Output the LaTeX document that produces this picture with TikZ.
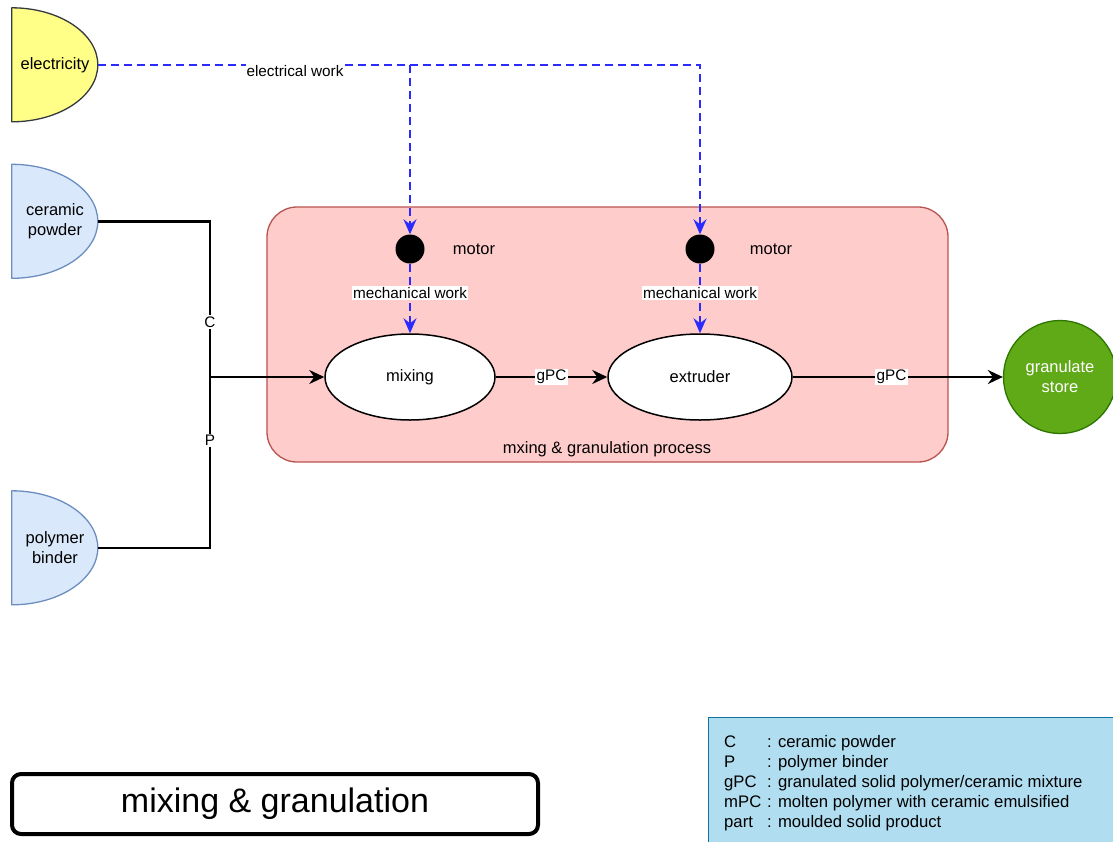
\documentclass[tikz,border=0pt]{standalone}
\usepackage{fontspec}
\setmainfont{Liberation Sans}
\usetikzlibrary{arrows.meta,shapes.geometric}
\definecolor{elecfill}{HTML}{FFFF88}
\definecolor{elecline}{HTML}{36393D}
\definecolor{feedfill}{HTML}{DAE8FC}
\definecolor{feedline}{HTML}{6C8EBF}
\definecolor{procfill}{HTML}{FFCCCC}
\definecolor{procline}{HTML}{B85450}
\definecolor{storefill}{HTML}{60A917}
\definecolor{storeline}{HTML}{2D7600}
\definecolor{legfill}{HTML}{B1DDF0}
\definecolor{legline}{HTML}{10739E}
\definecolor{workblue}{HTML}{2B2BFF}

\tikzset{
  txt/.style={font=\fontsize{16.5}{20}\selectfont, align=center, inner sep=0pt},
  elabel/.style={font=\fontsize{15.3}{18}\selectfont, fill=white, inner sep=1.5pt},
  sourcebox/.style={minimum width=86pt, minimum height=114pt, inner sep=0pt, txt},
  halfdisc/.style={line width=1.3pt, line join=round},
  flow/.style={line width=2.4pt, -{Stealth[length=15pt,width=14pt,inset=5pt]}},
  feed/.style={line width=2.4pt},
  work/.style={draw=workblue, line width=2pt, dash pattern=on 8pt off 5pt,
    -{Stealth[length=15pt,width=13pt,inset=5pt]}},
  unit/.style={ellipse, draw=black, line width=1.5pt, fill=white, txt},
  motor/.style={circle, fill=black, minimum size=29pt, inner sep=0pt},
}

\begin{document}
\begin{tikzpicture}[x=1pt,y=-1pt]
\useasboundingbox (0,0) rectangle (1113,841);
\clip (0,0) rectangle (1113,841);
\fill[white] (0,0) rectangle (1113,841);

% process container
\node[draw=procline, fill=procfill, line width=1.3pt, rounded corners=30pt,
      minimum width=681pt, minimum height=255pt] (proc) at (607.5,334.5) {};
\node[txt] (plabel) at (607,449) {mxing \& granulation process};

% sources (half-disc shapes)
\node[sourcebox] (elec) at (55,65) {};
\node[sourcebox] (cer) at (55,221.5) {};
\node[sourcebox] (pol) at (55,548) {};
\filldraw[halfdisc, fill=elecfill, draw=elecline]
  (elec.north west) arc[start angle=90, end angle=-90, x radius=86pt, y radius=57pt] -- cycle;
\filldraw[halfdisc, fill=feedfill, draw=feedline]
  (cer.north west) arc[start angle=90, end angle=-90, x radius=86pt, y radius=57pt] -- cycle;
\filldraw[halfdisc, fill=feedfill, draw=feedline]
  (pol.north west) arc[start angle=90, end angle=-90, x radius=86pt, y radius=57pt] -- cycle;
\node[txt] (elect) at (elec) {electricity};
\node[txt] (cert) at (cer) {ceramic\\powder};
\node[txt] (polt) at (pol) {polymer\\binder};

% process units
\node[unit, minimum width=170pt, minimum height=86pt] (mix) at (410,377) {mixing};
\node[unit, minimum width=184pt, minimum height=86pt] (ext) at (700,377) {extruder};
\node[motor] (m1) at (410,249) {};
\node[motor] (m2) at (700,249) {};
\node[txt] (m1t) at (474,249) {motor};
\node[txt] (m2t) at (771,249) {motor};

% store
\node[circle, draw=storeline, fill=storefill, line width=1.3pt, minimum size=113pt,
      txt, text=white] (store) at (1060,377) {granulate\\store};

% energy supply
\draw[work] (elec.east) -| (m2.north);
\draw[work] (elec.east -| m1.north) -- (m1.north);
\node[elabel, inner sep=1pt] (ew) at (295,71) {electrical work};
\draw[work] (m1.south) -- node[elabel, pos=0.42] {mechanical work} (mix.north);
\draw[work] (m2.south) -- node[elabel, pos=0.42] {mechanical work} (ext.north);

% material feeds
\coordinate (jn) at (210,377);
\draw[feed] (cer.east) -| node[elabel, pos=0.824] {C} (jn);
\draw[feed] (pol.east) -| node[elabel, pos=0.815] {P} (jn);
\draw[flow] (jn) -- (mix.west);
\draw[flow] (mix.east) -- node[elabel, pos=0.5] {gPC} (ext.west);
\draw[flow] (ext.east) -- node[elabel, pos=0.47] {gPC} (store.west);

% title
\node[draw, line width=4pt, rounded corners=9pt, minimum width=526pt, minimum height=60pt,
      font=\fontsize{34}{40}\selectfont] (title) at (275,804) {mixing \& granulation};

% legend
\node[draw=legline, fill=legfill, line width=1.3pt, anchor=north west,
      minimum width=440pt, minimum height=160pt] (leg) at (708,717) {};
\node[anchor=base west, inner sep=0pt, font=\fontsize{16.7}{20}\selectfont] (legtext) at (724,747)
  {\begin{tabular}[t]{@{}p{43pt}@{}l@{}}
   C & : ceramic powder\\
   P & : polymer binder\\
   gPC & : granulated solid polymer/ceramic mixture\\
   mPC & : molten polymer with ceramic emulsified\\
   part & : moulded solid product
   \end{tabular}};
\end{tikzpicture}
\end{document}
